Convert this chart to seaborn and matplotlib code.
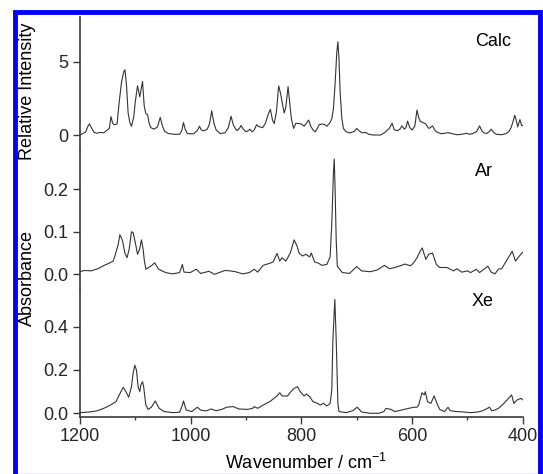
import numpy as np
import pandas as pd
import matplotlib
matplotlib.use("Agg")
import matplotlib.pyplot as plt
import seaborn as sns
from matplotlib.patches import Rectangle
from matplotlib.lines import Line2D

# --- calculated spectrum (wavenumber, relative intensity) ---
calc_wn = [1199, 1190, 1185, 1183, 1180, 1175, 1170, 1163, 1157, 1152, 1147, 1144, 1141, 1138,
           1133, 1129, 1125, 1121, 1118.7, 1116, 1113, 1110, 1107, 1103, 1100, 1096, 1092, 1087,
           1084, 1081, 1078, 1075, 1072, 1066, 1060, 1055, 1051, 1047, 1040, 1030, 1020, 1016,
           1013, 1010, 1006, 995, 988, 984, 981, 977, 970, 966, 962, 958, 954, 947, 938, 932,
           927, 923, 919, 916, 912, 909, 905, 900, 896, 893, 889, 885, 881, 877, 870, 865, 860,
           856, 852, 849, 845, 841, 838, 835, 831, 828, 824, 821, 818, 814, 810, 805, 800, 795,
           790, 787, 783, 779, 775, 771, 768, 763, 758, 754, 749, 745, 742, 739, 736, 734, 732,
           730, 727, 724, 719, 712, 704, 700, 696, 690, 684, 678, 670, 657, 650, 644, 641, 636,
           632, 626, 622, 618, 614, 611, 608, 604, 600, 595, 591, 588, 585, 580, 575, 571, 569,
           563, 559, 556, 548, 544, 535, 528, 519, 510, 502, 496, 490, 483, 478, 474, 470, 465,
           460, 457, 453, 448, 438, 430, 425, 421, 418, 414.4, 411, 409, 405, 402, 399]
calc_int = [0.02, 0.2, 0.65, 0.75, 0.55, 0.2, 0.12, 0.18, 0.15, 0.3, 0.45, 1.25, 0.8, 0.7,
            0.75, 2.3, 3.6, 4.3, 4.45, 3.4, 1.5, 0.85, 0.6, 1.2, 2.3, 3.35, 2.6, 3.65,
            2.0, 1.45, 1.4, 0.8, 0.5, 0.4, 0.55, 1.2, 0.6, 0.25, 0.1, 0.05, 0.05, 0.3,
            0.85, 0.4, 0.1, 0.08, 0.3, 0.6, 0.35, 0.28, 0.4, 0.75, 1.65, 0.8, 0.35, 0.1, 0.15, 0.5,
            1.28, 0.7, 0.42, 0.3, 0.45, 0.65, 0.4, 0.22, 0.3, 0.4, 0.22, 0.35, 0.7, 0.58, 0.5, 0.8, 1.4,
            1.75, 1.0, 0.78, 1.6, 3.35, 2.9, 2.3, 1.5, 1.9, 3.3, 2.2, 1.1, 0.45, 0.8, 0.78, 0.75, 0.6,
            0.85, 1.02, 0.6, 0.35, 0.22, 0.45, 0.7, 0.75, 0.72, 0.6, 0.8, 1.1, 1.8, 3.5, 5.6, 6.35, 5.2,
            3.0, 1.2, 0.45, 0.22, 0.15, 0.25, 0.45, 0.3, 0.15, 0.18, 0.05, 0.0, 0.0, 0.15, 0.35, 0.45, 0.8,
            0.35, 0.3, 0.4, 0.62, 0.4, 0.5, 0.95, 0.5, 0.35, 0.6, 1.7, 1.2, 0.92, 0.85, 0.75, 0.5, 0.45,
            0.62, 0.35, 0.22, 0.1, 0.1, 0.16, 0.1, 0.02, 0.05, 0.12, 0.05, 0.1, 0.25, 0.62, 0.3, 0.15, 0.1,
            0.25, 0.4, 0.2, 0.05, 0.02, 0.1, 0.25, 0.5, 0.85, 1.35, 0.9, 0.55, 1.05, 0.65, 0.64]

# --- Ar matrix spectrum ---
ar_wn = [1200, 1192, 1180, 1168, 1156, 1146, 1140, 1136, 1131, 1128, 1125, 1123, 1119, 1115,
         1111, 1107, 1104, 1100, 1096, 1092, 1089, 1086, 1084, 1081, 1076, 1070, 1065, 1058,
         1045, 1033, 1020, 1015, 1012, 1001, 990, 982, 967, 957, 938, 929, 919, 906, 894, 885,
         879, 869, 857, 851, 844, 839, 835, 828, 820, 813, 808, 804, 798, 792, 785, 782, 776,
         769, 763, 754, 748, 745, 742, 740.5, 739, 737, 735, 726, 713, 700, 691, 676, 663, 650,
         641, 631, 619, 613, 603, 597, 591, 585, 581.5, 578, 575, 570, 563, 556, 550, 537, 525,
         519, 510, 500, 494, 484, 478, 463, 457, 450, 444, 438, 428, 419, 413, 406, 400]
ar_abs = [0.006, 0.009, 0.008, 0.013, 0.021, 0.027, 0.031, 0.047, 0.07, 0.093, 0.085, 0.078, 0.05, 0.039,
          0.06, 0.1, 0.098, 0.074, 0.047, 0.06, 0.081, 0.06, 0.035, 0.012, 0.016, 0.021, 0.027, 0.012,
          0.004, 0.001, 0.004, 0.023, 0.005, 0.004, 0.012, 0.002, 0.007, 0.0, 0.009, 0.008, 0.006, 0.001, 0.004, 0.012,
          0.005, 0.021, 0.026, 0.029, 0.049, 0.031, 0.039, 0.031, 0.05, 0.081, 0.067, 0.05, 0.043, 0.047, 0.041, 0.05, 0.029,
          0.026, 0.021, 0.023, 0.041, 0.12, 0.24, 0.271, 0.2, 0.08, 0.019, 0.004, 0.002, 0.018, 0.008, 0.006, 0.01, 0.021,
          0.013, 0.016, 0.021, 0.024, 0.02, 0.027, 0.039, 0.055, 0.062, 0.047, 0.035, 0.047, 0.05, 0.023, 0.016, 0.016, 0.008,
          0.013, 0.005, 0.008, 0.004, 0.012, 0.004, 0.019, 0.005, 0.001, 0.012, 0.013, 0.035, 0.054, 0.031, 0.043, 0.052]

# --- Xe matrix spectrum ---
xe_wn = [1200, 1183, 1170, 1157, 1145, 1135, 1129, 1122, 1117, 1112, 1107, 1104, 1101, 1098,
         1095, 1092, 1090, 1087, 1085, 1081, 1077, 1071, 1064, 1057, 1048, 1032, 1020, 1015,
         1013, 1008, 998, 988, 982, 972, 963, 954, 944, 935, 923, 913, 897, 888, 885, 879, 869,
         857, 844, 839, 835, 825, 819, 813, 807, 802, 795, 791, 785, 779, 771, 766, 760, 754,
         748, 745, 743, 739.5, 737, 734, 732, 719, 707, 699, 691, 675, 660, 651, 647, 638, 631,
         619, 606, 597, 591, 588, 582, 578, 576, 572, 566, 560, 555, 550, 541, 535, 531, 519,
         506, 494, 481, 472, 460, 456, 450, 444, 437, 431, 420, 416, 410, 403, 400]
xe_abs = [0.003, 0.006, 0.011, 0.023, 0.038, 0.054, 0.085, 0.12, 0.1, 0.074, 0.123, 0.185, 0.222, 0.2,
          0.123, 0.1, 0.131, 0.146, 0.123, 0.038, 0.018, 0.028, 0.057, 0.023, 0.008, 0.003, 0.005, 0.038,
          0.057, 0.015, 0.008, 0.028, 0.015, 0.011, 0.02, 0.012, 0.018, 0.028, 0.031, 0.02, 0.018, 0.023, 0.031, 0.023, 0.038,
          0.054, 0.08, 0.095, 0.08, 0.08, 0.1, 0.115, 0.123, 0.1, 0.08, 0.089, 0.077, 0.054, 0.046, 0.038, 0.046, 0.034,
          0.046, 0.108, 0.338, 0.526, 0.338, 0.046, 0.008, 0.003, 0.012, 0.028, 0.006, 0.0, 0.0, 0.008, 0.023, 0.018, 0.008,
          0.015, 0.023, 0.028, 0.028, 0.038, 0.095, 0.085, 0.1, 0.054, 0.046, 0.08, 0.046, 0.018, 0.008, 0.028, 0.012, 0.008,
          0.006, 0.003, 0.006, 0.012, 0.028, 0.012, 0.015, 0.023, 0.038, 0.054, 0.085, 0.046, 0.062, 0.069, 0.062]

panel_names = ["Calc", "Ar", "Xe"]
x_ticks = [1200, 1000, 800, 600, 400]
x_minor = [1100, 900, 700, 500]

sns.set_style("ticks")
plt.rcParams["font.family"] = ["Liberation Sans", "DejaVu Sans"]
plt.rcParams["mathtext.default"] = "regular"

W, H = 543, 474
fig = plt.figure(figsize=(W / 100, H / 100), dpi=100)


def px_axes(top, bottom):
    # axes rectangle from pixel rows
    return [80 / W, 1 - bottom / H, (522.7 - 80) / W, (bottom - top) / H]


ax_c = fig.add_axes(px_axes(17, 150))
ax_a = fig.add_axes(px_axes(150, 290))
ax_x = fig.add_axes(px_axes(290, 416.7))

spectra = [
    (ax_c, pd.DataFrame({"wn": calc_wn, "val": calc_int}), (-1.02, 8.04), [0, 5], "%d"),
    (ax_a, pd.DataFrame({"wn": ar_wn, "val": ar_abs}), (-0.037, 0.2925), [0.0, 0.1, 0.2], "%.1f"),
    (ax_x, pd.DataFrame({"wn": xe_wn, "val": xe_abs}), (-0.0157, 0.5695), [0.0, 0.2, 0.4], "%.1f"),
]

spine_col = "#3a3a3a"
for ax, df, ylim, yt, fmt in spectra:
    sns.lineplot(data=df, x="wn", y="val", ax=ax, color="#333333", linewidth=0.8)
    ax.set_xlim(1200, 400)
    ax.set_ylim(*ylim)
    ax.set_yticks(yt)
    ax.yaxis.set_major_formatter(matplotlib.ticker.FormatStrFormatter(fmt))
    ax.set_xlabel("")
    ax.set_ylabel("")
    ax.patch.set_alpha(0)
    for s in ["top", "right"]:
        ax.spines[s].set_visible(False)
    ax.spines["left"].set_color(spine_col)
    ax.spines["left"].set_linewidth(1.2)
    ax.tick_params(axis="y", direction="out", length=5, width=1.0, color=spine_col,
                   labelsize=13, pad=3.5)

for ax in [ax_c, ax_a]:
    ax.spines["bottom"].set_visible(False)
    ax.set_xticks([])

ax_x.spines["bottom"].set_color(spine_col)
ax_x.spines["bottom"].set_linewidth(1.2)
ax_x.set_xticks(x_ticks)
ax_x.set_xticks(x_minor, minor=True)
ax_x.tick_params(axis="x", which="major", direction="out", length=5, width=1.0,
                 color=spine_col, labelsize=13, pad=3)
ax_x.tick_params(axis="x", which="minor", direction="out", length=2.5, width=1.0,
                 color=spine_col)


def ftext(x, y, s, **kw):
    fig.text(x / W, 1 - y / H, s, fontsize=13, color="black", **kw)


ftext(475, 42, panel_names[0], va="center", ha="left")
ftext(475, 172, panel_names[1], va="center", ha="left")
ftext(472, 301, panel_names[2], va="center", ha="left")
ftext(28, 91, "Relative Intensity", rotation=90, va="center", ha="center")
ftext(27, 278, "Absorbance", rotation=90, va="center", ha="center")
ftext(306, 469, "Wavenumber / cm$^{-1}$", va="baseline", ha="center")

# blue frame around the figure (bottom edge runs off the image)
fig.patches.append(Rectangle((14.5 / W, -0.05), (540 - 14.5) / W, 1.05 - 12 / H,
                             transform=fig.transFigure, fill=False,
                             edgecolor="#0000ff", linewidth=3.5, zorder=10))
fig.lines.append(Line2D([17 / W, 538 / W], [0.5 / H, 0.5 / H], transform=fig.transFigure,
                        color="#a8a8ff", linewidth=1.0))

fig.savefig("out.png", dpi=100)
